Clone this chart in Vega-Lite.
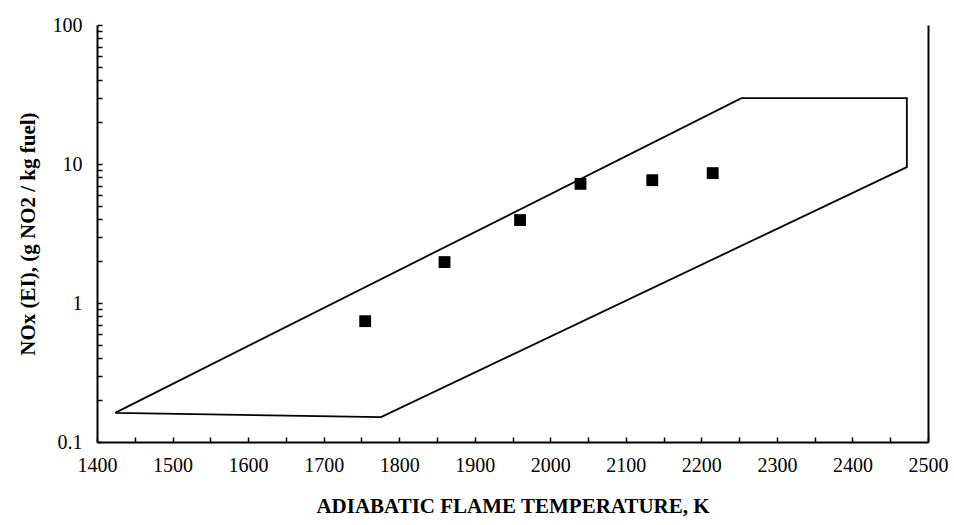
{
  "$schema": "https://vega.github.io/schema/vega-lite/v6.json",
  "autosize": "none",
  "padding": {"left": 97, "top": 25, "right": 26, "bottom": 83},
  "width": 831,
  "height": 417,
  "background": "white",
  "config": {
    "view": {"stroke": null},
    "axis": {
      "domainColor": "black",
      "domainWidth": 2,
      "tickColor": "black",
      "tickWidth": 1.5,
      "labelColor": "black",
      "titleColor": "black",
      "labelFont": "Liberation Serif",
      "titleFont": "Liberation Serif",
      "labelFontSize": 20,
      "titleFontSize": 21,
      "titleFontWeight": "bold",
      "grid": false,
      "labelOverlap": false,
      "labelFlush": false,
      "labelBound": false
    }
  },
  "datasets": {
    "envelope": [
      {"i": 1, "T": 1424, "NOx": 0.162},
      {"i": 2, "T": 1776, "NOx": 0.151},
      {"i": 3, "T": 2472, "NOx": 9.5},
      {"i": 4, "T": 2472, "NOx": 29.8},
      {"i": 5, "T": 2253, "NOx": 29.8},
      {"i": 6, "T": 1424, "NOx": 0.162}
    ],
    "points": [
      {"T": 1755, "NOx": 0.74},
      {"T": 1860, "NOx": 1.97},
      {"T": 1960, "NOx": 3.95},
      {"T": 2040, "NOx": 7.2},
      {"T": 2135, "NOx": 7.65},
      {"T": 2215, "NOx": 8.6}
    ]
  },
  "encoding": {
    "x": {
      "field": "T",
      "type": "quantitative",
      "scale": {"domain": [1400, 2500], "nice": false, "zero": false},
      "axis": {
        "title": "ADIABATIC FLAME TEMPERATURE, K",
        "values": [1400, 1450, 1500, 1550, 1600, 1650, 1700, 1750, 1800, 1850, 1900, 1950, 2000, 2050, 2100, 2150, 2200, 2250, 2300, 2350, 2400, 2450, 2500],
        "labelExpr": "datum.value % 100 == 0 ? format(datum.value, 'd') : ''",
        "tickSize": -5,
        "labelPadding": 18,
        "titlePadding": 20
      }
    },
    "y": {
      "field": "NOx",
      "type": "quantitative",
      "scale": {"type": "log", "domain": [0.1, 100], "nice": false},
      "axis": {
        "title": "NOx (EI), (g NO2 / kg fuel)",
        "values": [0.1, 0.2, 0.3, 0.4, 0.5, 0.6, 0.7, 0.8, 0.9, 1, 2, 3, 4, 5, 6, 7, 8, 9, 10, 20, 30, 40, 50, 60, 70, 80, 90, 100],
        "labelExpr": "datum.value == 0.1 ? '0.1' : datum.value == 1 ? '1' : datum.value == 10 ? '10' : datum.value == 100 ? '100' : ''",
        "tickSize": -5,
        "labelPadding": 20,
        "titlePadding": 14
      }
    }
  },
  "layer": [
    {
      "data": {"name": "envelope"},
      "mark": {"type": "line", "color": "black", "strokeWidth": 1.8},
      "encoding": {
        "order": {"field": "i", "type": "quantitative"}
      }
    },
    {
      "data": {"name": "points"},
      "mark": {"type": "point", "shape": "square", "filled": true, "color": "black", "size": 140, "opacity": 1},
      "encoding": {
        "y": {
          "field": "NOx",
          "type": "quantitative",
          "scale": {"type": "log", "domain": [0.1, 100], "nice": false},
          "axis": {"orient": "right", "title": null, "labels": false, "ticks": false, "domain": true}
        }
      }
    }
  ],
  "resolve": {"axis": {"y": "independent"}}
}
